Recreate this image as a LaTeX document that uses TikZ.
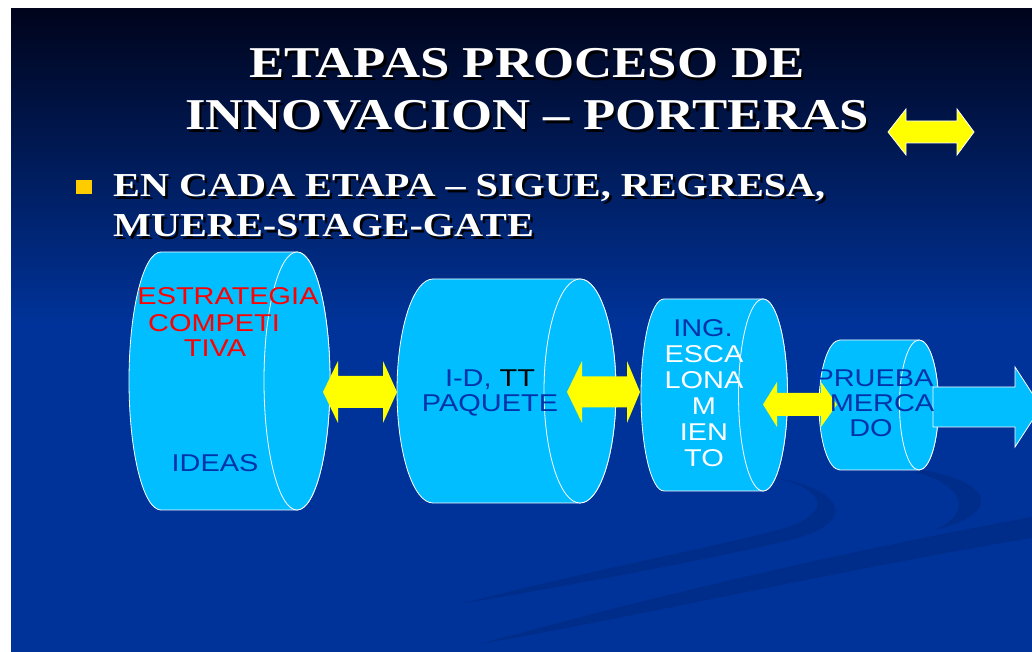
\documentclass[tikz,border=0pt]{standalone}
\usepackage{fontspec}
\setmainfont{Liberation Serif}
\newfontfamily\titlefont[FakeStretch=1.2]{Liberation Serif}
\newfontfamily\cylfont[FakeStretch=1.19]{Liberation Sans}
\definecolor{bgblue}{RGB}{0,51,153}
\definecolor{bgtop}{RGB}{0,4,28}
\definecolor{swooshc}{RGB}{0,44,138}
\definecolor{cylc}{RGB}{0,190,255}
\definecolor{arrowyellow}{RGB}{255,255,0}
\definecolor{txtblue}{RGB}{0,51,170}
\definecolor{txtred}{RGB}{255,0,0}
\definecolor{bulletc}{RGB}{255,204,0}
\newcommand{\mycyl}[6]{% lcx lrx rcx rrx cy ry
  \path[cylbody] (#1,#5+#6) -- (#3,#5+#6) arc[start angle=90,end angle=-90,x radius=#4,y radius=#6] -- (#1,#5-#6) arc[start angle=270,end angle=90,x radius=#2,y radius=#6] -- cycle;
  \path[cylbody] (#3,#5) ellipse[x radius=#4,y radius=#6];
}
\newcommand{\mydblarrow}[8]{% tipL backL backR tipR cy headhalf shafthalf style
  \path[#8] (#1,#5) -- (#2,#5+#6) -- (#2,#5+#7) -- (#3,#5+#7) -- (#3,#5+#6) -- (#4,#5) -- (#3,#5-#6) -- (#3,#5-#7) -- (#2,#5-#7) -- (#2,#5-#6) -- cycle;
}
\newcommand{\shtext}[1]{\leavevmode\rlap{\kern2.5pt\raisebox{-2.5pt}{\textcolor{black}{#1}}}#1}
\tikzset{
  cylbody/.style={fill=cylc,draw=white,line width=0.8pt},
  yarrow/.style={fill=arrowyellow},
  yarrowline/.style={fill=arrowyellow,draw=white,line width=0.8pt},
  titletext/.style={font=\titlefont\bfseries\fontsize{44}{50}\selectfont,inner sep=0pt,anchor=base,text=white},
  bullettext/.style={font=\titlefont\bfseries\fontsize{33.5}{38}\selectfont,inner sep=0pt,anchor=base west,text=white},
  cyltext/.style={font=\cylfont\fontsize{24.3}{28}\selectfont,inner sep=0pt,anchor=base},
}
\begin{document}
\begin{tikzpicture}[x=1pt,y=1pt]
\useasboundingbox (0,0) rectangle (1032,652);
\clip (0,0) rectangle (1032,652);
\fill[white] (0,0) rectangle (1032,652);
% background
\fill[bgblue] (11,0) rectangle (1032,330);
\shade[top color=bgtop,bottom color=bgblue] (11,329) rectangle (1032,643);
% swooshes
\fill[swooshc] (765,176) .. controls (845,165) and (862,130) .. (790,112) .. controls (720,95) and (600,72) .. (460,48)
   .. controls (600,84) and (720,106) .. (785,124) .. controls (835,140) and (826,166) .. (765,176) -- cycle;
\fill[swooshc] (922,182) .. controls (995,170) and (1002,138) .. (935,122) .. controls (975,140) and (962,168) .. (915,180) -- cycle;
\fill[swooshc] (1032,135) .. controls (850,102) and (650,55) .. (480,8) .. controls (650,38) and (850,84) .. (1032,114) -- cycle;
% title
\node[titletext] (title1) at (527,574) {\shtext{ETAPAS PROCESO DE}};
\node[titletext] (title2) at (527,522) {\shtext{INNOVACION – PORTERAS}};
% top yellow arrow
\mydblarrow{888}{906}{957}{974}{520}{23}{11}{yarrowline}
% bullet
\fill[bulletc] (76,458) rectangle (92,472);
\node[bullettext] (bul1) at (113,455) {\shtext{EN CADA ETAPA – SIGUE, REGRESA,}};
\node[bullettext] (bul2) at (113,415) {\shtext{MUERE-STAGE-GATE}};
% cylinders
\mycyl{161}{32}{297}{33}{271}{129}
\mycyl{433}{36}{580}{36}{261}{112}
\mycyl{664}{23}{763}{24.5}{257}{96}
\mycyl{840}{21}{919}{19.5}{247}{65}
% yellow arrows between stages
\mydblarrow{323}{338}{383}{397}{260}{31}{16}{yarrow}
\mydblarrow{567}{582}{627}{640}{260}{31}{15.5}{yarrow}
\mydblarrow{763}{777}{821}{837}{247.5}{22.5}{11.5}{yarrow}
% big output arrow
\path[cylbody] (933,265) -- (1015,265) -- (1015,285) -- (1041,245) -- (1015,205) -- (1015,225) -- (933,225) -- cycle;
% texts stage 1
\node[cyltext,txtred] (s1a) at (228,347) {ESTRATEGIA};
\node[cyltext,txtred] (s1b) at (214,320) {COMPETI};
\node[cyltext,txtred] (s1c) at (215,295) {TIVA};
\node[cyltext,txtblue] (s1d) at (215,180) {IDEAS};
% stage 2
\node[cyltext,txtblue] (s2a) at (490,265) {I-D, \textcolor{black}{TT}};
\node[cyltext,txtblue] (s2b) at (490,240) {PAQUETE};
% stage 3
\node[cyltext,txtblue] (s3a) at (703,315) {ING.};
\node[cyltext,white] (s3b) at (704,289) {ESCA};
\node[cyltext,white] (s3c) at (704,263) {LONA};
\node[cyltext,white] (s3d) at (704,237) {M};
\node[cyltext,white] (s3e) at (704,211) {IEN};
\node[cyltext,white] (s3f) at (704,185) {TO};
% stage 4
\node[cyltext,txtblue] (s4a) at (874,265) {PRUEBA};
\node[cyltext,txtblue] (s4b) at (882,240) {MERCA};
\node[cyltext,txtblue] (s4c) at (871,215) {DO};
\end{tikzpicture}
\end{document}
